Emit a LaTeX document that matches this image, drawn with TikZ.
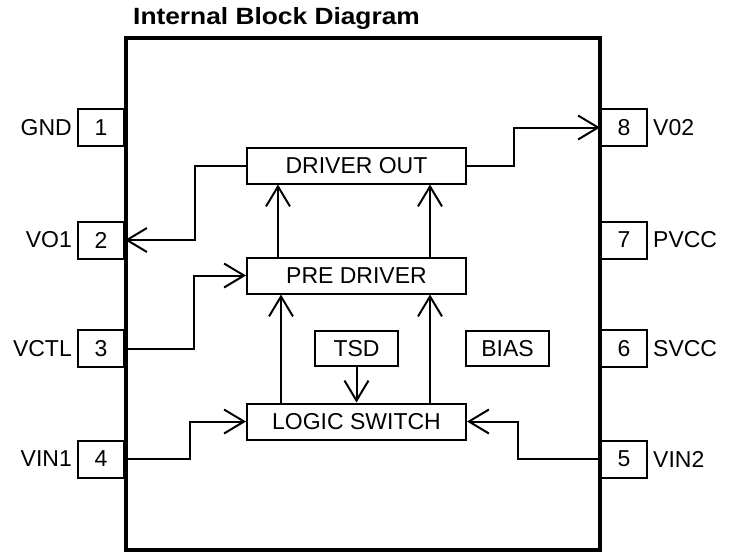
\documentclass[tikz,border=0pt]{standalone}
\usepackage{fontspec}
\setmainfont{Liberation Sans}
\usetikzlibrary{arrows.meta}
\begin{document}
\begin{tikzpicture}[
  x=1pt, y=-1pt,
  font=\fontsize{23}{27}\selectfont,
  pin/.style={draw, line width=2pt, minimum width=46pt, minimum height=37pt, inner sep=0pt},
  pinlbl/.style={inner sep=0pt},
  blk/.style={draw, line width=2pt, minimum width=219pt, minimum height=36pt, inner sep=0pt},
  small/.style={draw, line width=2pt, minimum width=83pt, minimum height=35pt, inner sep=0pt},
  sig/.style={line width=2pt, -{Straight Barb[length=20pt,width=24pt,line width=2pt]}}
]
\useasboundingbox (0,0) rectangle (732,552);
\node[anchor=base west, inner sep=0pt, font=\bfseries\fontsize{23.5}{28}\selectfont] (title) at (133,24) {\scalebox{1.12}[1]{Internal Block Diagram}};
% package outline
\draw[line width=4pt] (126,38) rectangle (600,549.5);
% pins
\foreach \n/\lbl/\y in {1/GND/127.5,2/VO1/240,3/VCTL/348.5,4/VIN1/459} {
  \node[pin] (p\n) at (101,\y) {\n};
  \node[pinlbl, anchor=east] (l\n) at ([xshift=-5pt]p\n.west) {\lbl};
}
\foreach \n/\lbl/\y in {8/V02/127.5,7/PVCC/240,6/SVCC/348.5,5/VIN2/459} {
  \node[pin] (p\n) at (624,\y) {\n};
  \node[pinlbl, anchor=west] (l\n) at ([xshift=5pt]p\n.east) {\lbl};
}
% blocks
\node[blk] (drv) at (356.5,165.5) {DRIVER OUT};
\node[blk] (pre) at (356.5,275.5) {PRE DRIVER};
\node[blk] (logic) at (356.5,421.5) {LOGIC SWITCH};
\node[small] (tsd) at (356.5,348.5) {TSD};
\node[small] (bias) at (507.5,348.5) {BIAS};
% signals
\draw[sig] (drv.west) -- ++(-51,0) |- (p2.east);
\draw[sig] (drv.east) -- ++(47,0) |- (p8.west);
\draw[sig] (pre.north -| 278,0) -- (drv.south -| 278,0);
\draw[sig] (pre.north -| 430,0) -- (drv.south -| 430,0);
\draw[sig] (p3.east) -- (194,348.5) |- (pre.west);
\draw[sig] (logic.north -| 281,0) -- (pre.south -| 281,0);
\draw[sig] (logic.north -| 430,0) -- (pre.south -| 430,0);
\draw[sig] (tsd.south) -- (logic.north);
\draw[sig] (p4.east) -- (190,459) |- (logic.west);
\draw[sig] (p5.west) -- (518,459) |- (logic.east);
\end{tikzpicture}
\end{document}
